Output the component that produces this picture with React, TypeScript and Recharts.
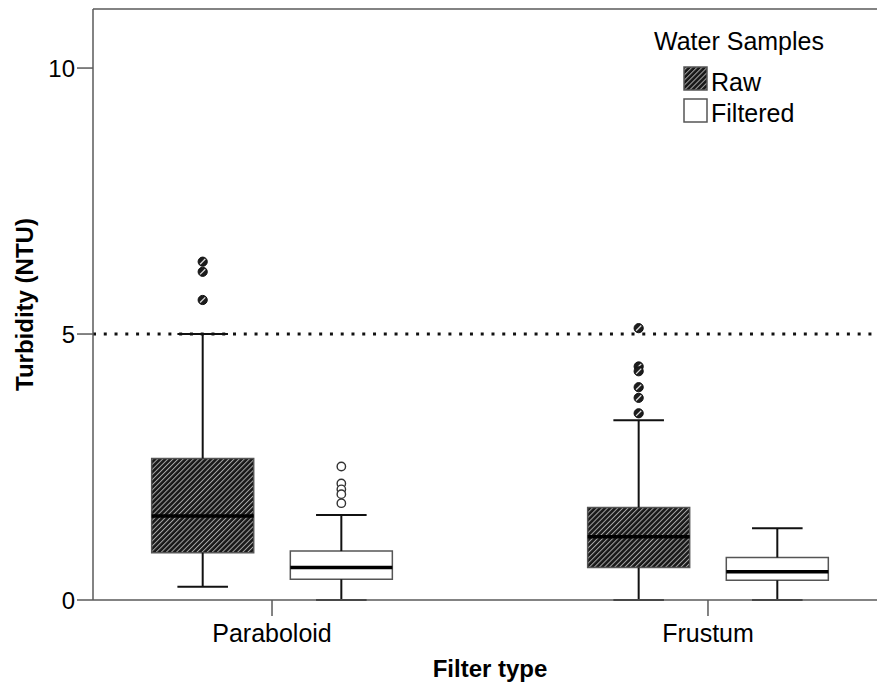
import React from 'react';
import { ComposedChart, XAxis, YAxis, Scatter, ReferenceArea, ReferenceLine } from 'recharts';

// filter types on the x axis
const CATEGORIES = ['Paraboloid', 'Frustum'];

// box statistics per filter type (NTU)
const RAW_STATS = [
  { min: 0.25, q1: 0.89, median: 1.58, q3: 2.66, max: 5.0 },
  { min: 0, q1: 0.61, median: 1.19, q3: 1.74, max: 3.38 },
];
const FILTERED_STATS = [
  { min: 0, q1: 0.39, median: 0.61, q3: 0.92, max: 1.6 },
  { min: 0, q1: 0.37, median: 0.53, q3: 0.8, max: 1.35 },
];

// outliers per filter type
const RAW_OUTLIERS = [
  [6.36, 6.17, 5.64],
  [5.11, 4.39, 4.3, 4.0, 3.8, 3.51],
];
const FILTERED_OUTLIERS = [
  [2.51, 2.19, 2.08, 1.99, 1.82],
  [],
];

const Y_TICKS = [0, 5, 10];
const LIMIT = 5; // turbidity guideline

// layout (x axis units, one unit per category)
const X_DOMAIN = [0.5894, 2.4106];
const Y_DOMAIN = [0, 11.11];
const GROUP_OFFSET = 0.159;
const BOX_HALF = 0.117;
const CAP_HALF = 0.058;

const FONT = '"Liberation Sans", Arial, sans-serif';
const AXIS_COLOR = '#5a5a5a';

const rawPoints = RAW_OUTLIERS.flatMap((vals, i) =>
  vals.map((v) => ({ x: i + 1 - GROUP_OFFSET, y: v }))
);
const filteredPoints = FILTERED_OUTLIERS.flatMap((vals, i) =>
  vals.map((v) => ({ x: i + 1 + GROUP_OFFSET, y: v }))
);

const RawDot = (props: any) => {
  const { cx, cy } = props;
  return (
    <g>
      <circle cx={cx} cy={cy} r={4.6} fill="#1c1c1c" stroke="#111" strokeWidth={1} />
      <line x1={cx - 2.6} y1={cy + 2.6} x2={cx + 2.6} y2={cy - 2.6} stroke="#ddd" strokeWidth={1.3} />
    </g>
  );
};

const FilteredDot = (props: any) => {
  const { cx, cy } = props;
  return <circle cx={cx} cy={cy} r={4.2} fill="#fff" stroke="#333" strokeWidth={1.4} />;
};

// one box with whiskers, drawn with reference shapes on the chart's scales
const boxShapes = (stats: typeof RAW_STATS, offset: number, fill: string, key: string) =>
  stats.flatMap((s, i) => {
    const c = i + 1 + offset;
    return [
      <ReferenceLine key={`${key}-wu-${i}`} segment={[{ x: c, y: s.q3 }, { x: c, y: s.max }]} stroke="#111" strokeWidth={2} ifOverflow="visible" />,
      <ReferenceLine key={`${key}-wl-${i}`} segment={[{ x: c, y: s.min }, { x: c, y: s.q1 }]} stroke="#111" strokeWidth={2} ifOverflow="visible" />,
      <ReferenceLine key={`${key}-cu-${i}`} segment={[{ x: c - CAP_HALF, y: s.max }, { x: c + CAP_HALF, y: s.max }]} stroke="#111" strokeWidth={2} ifOverflow="visible" />,
      <ReferenceLine key={`${key}-cl-${i}`} segment={[{ x: c - CAP_HALF, y: s.min }, { x: c + CAP_HALF, y: s.min }]} stroke="#111" strokeWidth={2} ifOverflow="visible" />,
      <ReferenceArea key={`${key}-box-${i}`} x1={c - BOX_HALF} x2={c + BOX_HALF} y1={s.q1} y2={s.q3} fill={fill} fillOpacity={1} stroke="#555" strokeWidth={1.5} ifOverflow="visible" />,
      <ReferenceLine key={`${key}-md-${i}`} segment={[{ x: c - BOX_HALF, y: s.median }, { x: c + BOX_HALF, y: s.median }]} stroke="#000" strokeWidth={3.5} ifOverflow="visible" />,
    ];
  });

export default function App() {
  return (
    <div style={{ position: 'absolute', left: 0, top: 0, width: 877, height: 687, overflow: 'hidden', background: '#fff', fontFamily: FONT }}>
      <svg width={0} height={0} style={{ position: 'absolute' }}>
        <defs>
          <pattern id="hatch" patternUnits="userSpaceOnUse" width={3.6} height={3.6} patternTransform="rotate(45)">
            <rect x={0} y={0} width={3.6} height={3.6} fill="#181818" />
            <rect x={0} y={0} width={1} height={3.6} fill="#a8a8a8" />
          </pattern>
        </defs>
      </svg>
      <ComposedChart width={887} height={687} margin={{ top: 9, right: 0, bottom: 0, left: 0 }}>
        <XAxis
          type="number"
          dataKey="x"
          domain={X_DOMAIN}
          ticks={[1, 2]}
          allowDataOverflow
          tickFormatter={(v: number) => CATEGORIES[v - 1]}
          height={87}
          tickSize={16}
          tickMargin={8}
          stroke={AXIS_COLOR}
          strokeWidth={1.5}
          tick={{ fill: '#000', fontSize: 25, fontFamily: FONT }}
          label={{ value: 'Filter type', position: 'insideBottom', offset: 10, style: { fill: '#000', fontSize: 24, fontWeight: 'bold', fontFamily: FONT } }}
        />
        <YAxis
          type="number"
          dataKey="y"
          domain={Y_DOMAIN}
          ticks={Y_TICKS}
          allowDataOverflow
          width={93}
          tickSize={16}
          tickMargin={2}
          stroke={AXIS_COLOR}
          strokeWidth={1.5}
          tick={{ fill: '#000', fontSize: 24, fontFamily: FONT }}
          label={{ value: 'Turbidity (NTU)', angle: -90, position: 'insideLeft', offset: 24, style: { fill: '#000', fontSize: 24, fontWeight: 'bold', fontFamily: FONT, textAnchor: 'middle' } }}
        />
        <ReferenceLine y={Y_DOMAIN[1]} stroke={AXIS_COLOR} strokeWidth={1.5} />
        <ReferenceLine y={LIMIT} stroke="#111" strokeWidth={3} strokeDasharray="3 7.77" />
        {boxShapes(RAW_STATS, -GROUP_OFFSET, 'url(#hatch)', 'raw')}
        {boxShapes(FILTERED_STATS, GROUP_OFFSET, '#fff', 'flt')}
        <Scatter data={rawPoints} dataKey="y" shape={<RawDot />} isAnimationActive={false} />
        <Scatter data={filteredPoints} dataKey="y" shape={<FilteredDot />} isAnimationActive={false} />
      </ComposedChart>
      <svg width={877} height={687} style={{ position: 'absolute', left: 0, top: 0, pointerEvents: 'none' }}>
        <text x={739} y={50} textAnchor="middle" fontSize={25} fontFamily={FONT} fill="#000">Water Samples</text>
        <rect x={684} y={67} width={23} height={23} fill="url(#hatch)" stroke="#555" strokeWidth={1.5} />
        <text x={711} y={91} fontSize={25} fontFamily={FONT} fill="#000">Raw</text>
        <rect x={684} y={99} width={23} height={23} fill="#fff" stroke="#555" strokeWidth={1.5} />
        <text x={711} y={122} fontSize={25} fontFamily={FONT} fill="#000">Filtered</text>
      </svg>
    </div>
  );
}
